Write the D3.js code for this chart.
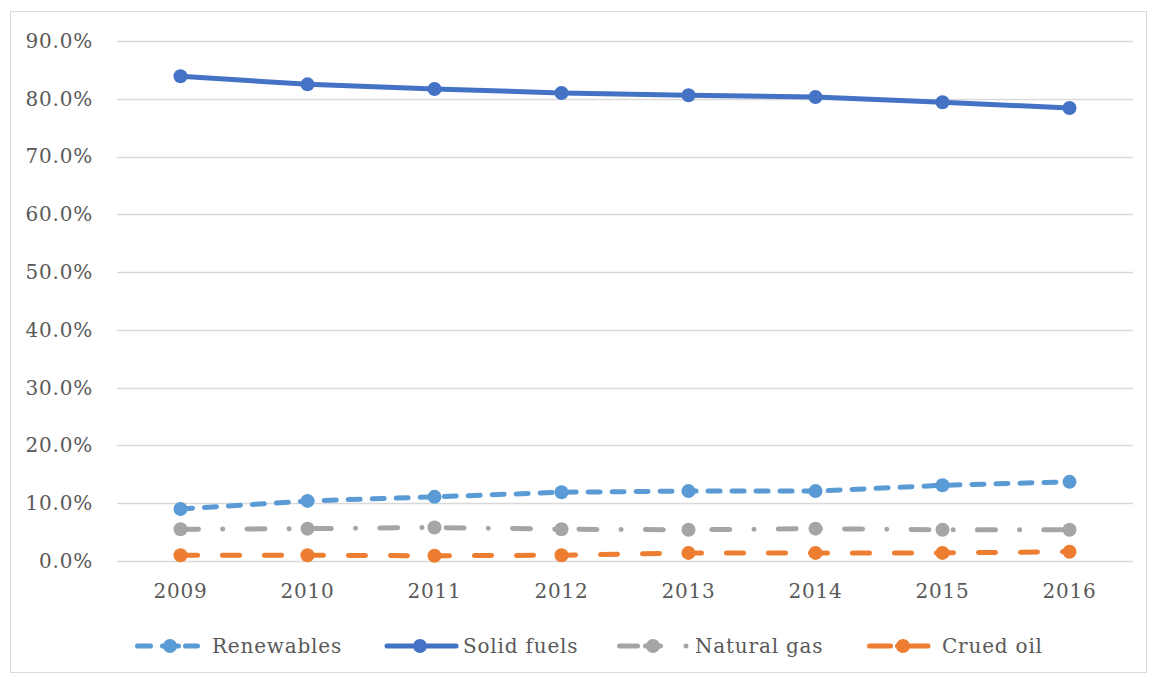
<!DOCTYPE html>
<html>
<head>
<meta charset="utf-8">
<script src="https://cdn.jsdelivr.net/npm/d3@7"></script>
<style>
  html, body { margin: 0; padding: 0; background: #ffffff; }
  svg { display: block; }
  text { font-family: "DejaVu Serif", "Liberation Serif", serif; fill: #595959; letter-spacing: 0.8px; }
</style>
</head>
<body>
<svg id="chart" width="1149" height="675"></svg>
<script>
// Share of primary energy sources, 2009–2016
const years = ["2009", "2010", "2011", "2012", "2013", "2014", "2015", "2016"];
const renewables = [9.0, 10.4, 11.1, 11.9, 12.1, 12.1, 13.1, 13.7];
const solidFuels = [83.9, 82.5, 81.7, 81.0, 80.6, 80.3, 79.4, 78.4];
const naturalGas = [5.5, 5.6, 5.8, 5.5, 5.4, 5.6, 5.4, 5.4];
const crudeOil = [1.0, 1.0, 0.9, 1.0, 1.4, 1.4, 1.4, 1.6];
const yTicks = [0, 10, 20, 30, 40, 50, 60, 70, 80, 90];

const series = [
  { name: "Renewables", values: renewables, color: "#5B9BD5", dash: "12,12" },
  { name: "Solid fuels", values: solidFuels, color: "#4472C4", dash: null },
  { name: "Natural gas", values: naturalGas, color: "#A5A5A5", dash: "18,24.2,0.01,24.2" },
  { name: "Crued oil", values: crudeOil, color: "#ED7D31", dash: "17,25" }
];

const svg = d3.select("#chart");
const FONT = 20;

// outer chart frame
svg.append("rect")
  .attr("x", 10.5).attr("y", 11.5)
  .attr("width", 1136).attr("height", 661)
  .attr("fill", "#ffffff")
  .attr("stroke", "#D9D9D9").attr("stroke-width", 1);

const plot = { left: 117, right: 1133, top: 41, bottom: 561 };

const x = d3.scaleBand().domain(years).range([plot.left, plot.right]);
const y = d3.scaleLinear().domain([0, 90]).range([plot.bottom, plot.top]);

// horizontal gridlines
svg.append("g")
  .selectAll("line")
  .data(yTicks)
  .join("line")
  .attr("x1", plot.left).attr("x2", plot.right)
  .attr("y1", d => Math.round(y(d)) + 0.5)
  .attr("y2", d => Math.round(y(d)) + 0.5)
  .attr("stroke", "#D9D9D9").attr("stroke-width", 1.3);

// y axis labels
const yAxis = d3.axisLeft(y).tickValues(yTicks)
  .tickFormat(d => d.toFixed(1) + "%").tickSize(0).tickPadding(0);
const gy = svg.append("g").attr("transform", `translate(${93},0)`).call(yAxis);
gy.select(".domain").remove();
gy.selectAll("text").attr("font-size", FONT).style("font-family", null).attr("fill", "#595959");

// x axis labels
const xAxis = d3.axisBottom(x).tickSize(0).tickPadding(0);
const gx = svg.append("g").attr("transform", `translate(0,${584})`).call(xAxis);
gx.select(".domain").remove();
gx.selectAll("text").attr("font-size", FONT).style("font-family", null).attr("fill", "#595959");

const cx = d => x(d) + x.bandwidth() / 2;

const line = d3.line()
  .x((d, i) => cx(years[i]))
  .y(d => y(d));

series.forEach(s => {
  const g = svg.append("g");
  g.append("path")
    .datum(s.values)
    .attr("d", line)
    .attr("fill", "none")
    .attr("stroke", s.color)
    .attr("stroke-width", 5)
    .attr("stroke-linecap", "round")
    .attr("stroke-linejoin", "round")
    .attr("stroke-dasharray", s.dash);
  g.selectAll("circle")
    .data(s.values)
    .join("circle")
    .attr("cx", (d, i) => cx(years[i]))
    .attr("cy", d => y(d))
    .attr("r", 7)
    .attr("fill", s.color);
});

// legend
const legendY = 646;
const legendItems = [
  { x0: 137.5, x1: 198, mx: 170, tx: 212, dash: "13,12,16,7,12" },
  { x0: 387, x1: 456, mx: 420, tx: 463, dash: null },
  { x0: 619.5, x1: 688, mx: 653, tx: 695, dash: "18,8,15,25.5,0.01,20" },
  { x0: 869.5, x1: 928, mx: 903, tx: 942, dash: "21,7,40" }
];
series.forEach((s, i) => {
  const it = legendItems[i];
  const g = svg.append("g");
  g.append("line")
    .attr("x1", it.x0).attr("x2", it.x1)
    .attr("y1", legendY).attr("y2", legendY)
    .attr("stroke", s.color).attr("stroke-width", 5)
    .attr("stroke-linecap", "round")
    .attr("stroke-dasharray", it.dash);
  g.append("circle")
    .attr("cx", it.mx).attr("cy", legendY).attr("r", 7)
    .attr("fill", s.color);
  g.append("text")
    .attr("x", it.tx).attr("y", legendY)
    .attr("dy", "0.35em")
    .attr("font-size", FONT)
    .text(s.name);
});
</script>
</body>
</html>
